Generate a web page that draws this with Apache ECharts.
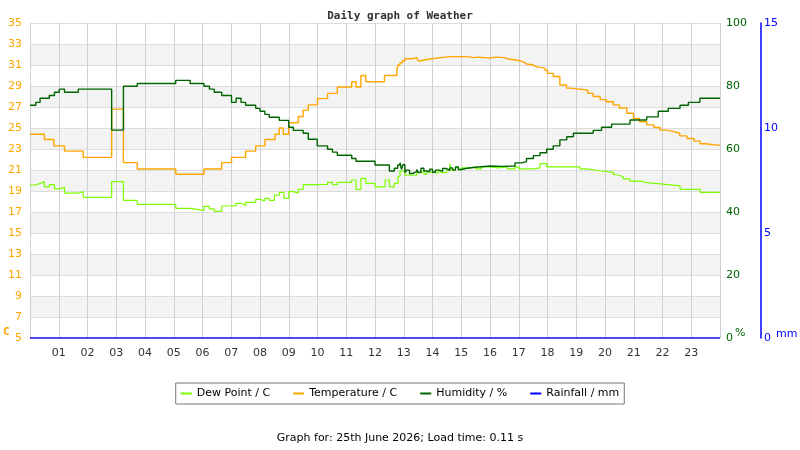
<!DOCTYPE html>
<html>
<head>
<meta charset="utf-8">
<script src="https://cdn.jsdelivr.net/npm/echarts@6/dist/echarts.min.js"></script>
<style>
  html, body { margin: 0; padding: 0; background: #fff; }
  #main { width: 800px; height: 450px; }
</style>
</head>
<body>
<div id="main"></div>
<script>
// hour ticks along the bottom
const hourLabels = ['', '01', '02', '03', '04', '05', '06', '07', '08', '09', '10', '11', '12',
  '13', '14', '15', '16', '17', '18', '19', '20', '21', '22', '23', ''];

// temperature, C (hour the value starts, value)
const tempHours = [0, 0.5, 0.83, 1.2, 1.85, 2.84, 3.25, 3.73, 5.07, 6.05, 6.67, 7.01, 7.5, 7.85, 8.17,
  8.52, 8.67, 8.81, 9.0, 9.33, 9.5, 9.68, 10.0, 10.35, 10.69, 11.19, 11.34, 11.51, 11.68, 12.33,
  12.76, 12.8, 12.87, 12.95, 13.04, 13.3, 13.45, 13.5, 13.6, 13.75, 14.0, 14.3, 14.6, 14.9, 14.96,
  15.2, 15.4, 15.6, 15.8, 16.0, 16.2, 16.5, 16.6, 16.82, 17.04, 17.2, 17.27, 17.51, 17.6, 17.8,
  17.91, 18.0, 18.2, 18.43, 18.66, 18.8, 19.13, 19.4, 19.59, 19.83, 20.05, 20.29, 20.5, 20.76,
  20.99, 21.2, 21.45, 21.7, 21.92, 22.15, 22.38, 22.6, 22.85, 23.1, 23.31, 23.48, 24];
const tempValues = [24.4, 23.9, 23.3, 22.8, 22.2, 26.8, 21.7, 21.1, 20.6, 21.1, 21.7, 22.2, 22.8, 23.3, 23.9,
  24.4, 25.0, 24.4, 25.5, 26.1, 26.7, 27.2, 27.8, 28.3, 28.9, 29.4, 28.9, 30.0, 29.4, 30.0,
  30.5, 31.0, 31.2, 31.4, 31.6, 31.7, 31.6, 31.4, 31.5, 31.6, 31.7, 31.8, 31.8, 31.9, 31.8,
  31.7, 31.75, 31.7, 31.65, 31.75, 31.7, 31.6, 31.5, 31.4, 31.25, 31.1, 31.0, 30.85, 30.75, 30.7,
  30.5, 30.2, 29.9, 29.1, 28.8, 28.7, 28.6, 28.3, 28.0, 27.7, 27.5, 27.2, 26.9, 26.4,
  25.9, 25.6, 25.3, 25.05, 24.8, 24.65, 24.5, 24.25, 24.0, 23.75, 23.5, 23.35, 23.35];

// humidity, %
const humHours = [0, 0.2, 0.35, 0.67, 0.85, 1.02, 1.2, 1.68, 2.84, 3.25, 3.73, 5.07, 5.57, 6.05, 6.24,
  6.41, 6.67, 7.01, 7.17, 7.34, 7.5, 7.85, 8.0, 8.17, 8.32, 8.67, 9.0, 9.16, 9.5, 9.68, 9.99,
  10.35, 10.52, 10.69, 11.19, 11.34, 12.0, 12.5, 12.67, 12.79, 12.87, 12.92, 12.97, 13.04, 13.1,
  13.2, 13.3, 13.45, 13.5, 13.6, 13.7, 13.8, 13.9, 14.0, 14.1, 14.2, 14.35, 14.49, 14.6, 14.7,
  14.8, 14.9, 15.0, 15.2, 15.5, 16.0, 16.4, 16.87, 17.1, 17.27, 17.51, 17.74, 17.97, 18.2, 18.43,
  18.67, 18.9, 19.59, 19.88, 20.23, 20.87, 21.45, 21.85, 22.2, 22.61, 22.9, 23.3, 24];
const humValues = [73.9, 74.8, 76.1, 77.0, 78.0, 79.0, 78.0, 79.0, 66.0, 79.9, 80.8, 81.8, 80.8, 79.9, 79.0,
  78.0, 77.0, 74.8, 76.1, 74.8, 73.9, 72.9, 72.0, 71.0, 70.1, 69.1, 66.9, 65.9, 65.0, 63.1, 61.0,
  59.9, 59.0, 58.0, 57.0, 56.1, 54.9, 53.0, 53.9, 54.9, 55.7, 53.5, 55.0, 52.5, 53.3,
  52.2, 52.8, 53.5, 52.6, 53.9, 53.0, 52.8, 53.6, 52.6, 53.3, 52.9, 53.8, 53.2, 54.0, 53.3,
  54.3, 53.5, 53.9, 54.2, 54.6, 54.5, 54.6, 55.6, 56.0, 57.0, 57.9, 58.8, 59.9, 61.0, 62.9,
  63.9, 65.0, 65.9, 66.9, 67.9, 69.2, 70.2, 72.0, 72.9, 73.9, 74.8, 76.1, 76.1];

// dew point, C
const dewHours = [0, 0.2, 0.35, 0.5, 0.67, 0.85, 1.02, 1.2, 1.68, 1.85, 2.84, 3.25, 3.73, 5.07, 5.57,
  6.05, 6.24, 6.41, 6.67, 7.01, 7.17, 7.34, 7.5, 7.85, 8.0, 8.17, 8.32, 8.5, 8.67, 8.83, 9.0,
  9.16, 9.33, 9.5, 10.0, 10.35, 10.52, 10.69, 11.19, 11.34, 11.51, 11.68, 12.0, 12.35, 12.5,
  12.67, 12.8, 12.87, 13.04, 13.45, 13.6, 13.7, 13.8, 14.0, 14.2, 14.3, 14.49, 14.6, 14.65,
  14.8, 14.9, 15.0, 15.3, 15.5, 15.7, 16.0, 16.3, 16.6, 16.87, 17.0, 17.5, 17.74, 17.97, 19.13,
  19.36, 19.83, 20.3, 20.41, 20.64, 20.87, 21.22, 21.45, 21.92, 22.61, 23.31, 24];
const dewValues = [19.57, 19.73, 19.9, 19.4, 19.6, 19.2, 19.35, 18.8, 18.95, 18.4, 19.9, 18.1, 17.73, 17.35, 17.16,
  17.54, 17.29, 17.06, 17.57, 17.6, 17.83, 17.65, 17.92, 18.2, 18.05, 18.3, 18.1, 18.6, 18.87, 18.3, 18.94,
  18.8, 19.16, 19.6, 19.63, 19.83, 19.6, 19.83, 20.05, 19.16, 20.2, 19.73, 19.4, 20.05, 19.4,
  19.73, 20.4, 20.9, 20.5, 20.74, 20.9, 20.6, 20.8, 20.7, 21.0, 20.75, 21.0, 21.6, 21.0,
  21.3, 21.0, 21.2, 21.3, 21.1, 21.3, 21.2, 21.3, 21.1, 21.3, 21.1, 21.2, 21.6, 21.3, 21.1,
  20.93, 20.78, 20.55, 20.36, 20.15, 19.95, 19.8, 19.67, 19.48, 19.16, 18.87, 18.87];

// rainfall, mm
const rainHours = [0, 24];
const rainValues = [0, 0];

function pairs(xs, ys) {
  return xs.map((x, i) => [x, ys[i]]);
}

const chart = echarts.init(document.getElementById('main'));

const option = {
  animation: false,
  title: {
    text: 'Daily graph of Weather',
    left: 'center',
    top: 6,
    textStyle: { fontFamily: 'DejaVu Sans Mono', fontSize: 11, fontWeight: 'bold', color: '#333' }
  },
  grid: { left: 30, right: 80, top: 23, bottom: 112, containLabel: false },
  legend: {
    top: 383,
    left: 'center',
    orient: 'horizontal',
    borderColor: '#777',
    borderWidth: 1,
    padding: [5, 5, 5, 5],
    itemGap: 23,
    itemWidth: 11,
    itemHeight: 2,
    icon: 'rect',
    textStyle: { fontFamily: 'DejaVu Sans', fontSize: 11, color: '#000' },
    data: ['Dew Point / C', 'Temperature / C', 'Humidity / %', 'Rainfall / mm']
  },
  xAxis: {
    type: 'value',
    min: 0,
    max: 24,
    interval: 1,
    axisLine: { show: true, lineStyle: { color: '#ccc' } },
    axisTick: { show: false },
    axisLabel: {
      color: '#333',
      fontFamily: 'DejaVu Sans',
      fontSize: 11,
      margin: 10,
      formatter: v => hourLabels[v]
    },
    splitLine: { show: true, lineStyle: { color: '#d0d0d0', width: 1 } }
  },
  yAxis: [
    {
      type: 'value',
      position: 'left',
      min: 5,
      max: 35,
      interval: 2,
      axisLine: { show: false },
      axisTick: { show: false },
      axisLabel: { color: '#ffa500', fontFamily: 'DejaVu Sans', fontSize: 11, margin: 8 },
      splitLine: { show: true, lineStyle: { color: '#ddd' } },
      splitArea: { show: true, areaStyle: { color: ['#ffffff', '#f3f3f3'] } }
    },
    {
      type: 'value',
      position: 'right',
      min: 0,
      max: 100,
      interval: 20,
      axisLine: { show: false },
      axisTick: { show: false },
      axisLabel: { color: '#006400', fontFamily: 'DejaVu Sans', fontSize: 11, margin: 6 },
      splitLine: { show: false }
    },
    {
      type: 'value',
      position: 'right',
      offset: 41,
      min: 0,
      max: 15,
      interval: 5,
      axisLine: { show: true, lineStyle: { color: '#0000ff', width: 1.5 } },
      axisTick: { show: false },
      axisLabel: { color: '#0000ff', fontFamily: 'DejaVu Sans', fontSize: 11, margin: 3 },
      splitLine: { show: false }
    }
  ],
  graphic: [
    { type: 'text', left: 3, top: 327, style: { text: 'C', fill: '#ffa500', font: 'bold 11px DejaVu Sans Mono' } },
    { type: 'text', left: 735, top: 328, style: { text: '%', fill: '#006400', font: '11px DejaVu Sans' } },
    { type: 'text', left: 776, top: 329, style: { text: 'mm', fill: '#0000ff', font: '11px DejaVu Sans' } },
    {
      type: 'text', left: 'center', top: 433,
      style: { text: 'Graph for: 25th June 2026; Load time: 0.11 s', fill: '#000', font: '11px DejaVu Sans' }
    }
  ],
  series: [
    {
      name: 'Dew Point / C',
      type: 'line',
      step: 'end',
      yAxisIndex: 0,
      showSymbol: false,
      color: '#7cfc00',
      lineStyle: { width: 1.2 },
      data: pairs(dewHours, dewValues)
    },
    {
      name: 'Temperature / C',
      type: 'line',
      step: 'end',
      yAxisIndex: 0,
      showSymbol: false,
      color: '#ffa500',
      lineStyle: { width: 1.4 },
      data: pairs(tempHours, tempValues)
    },
    {
      name: 'Humidity / %',
      type: 'line',
      step: 'end',
      yAxisIndex: 1,
      showSymbol: false,
      color: '#006400',
      lineStyle: { width: 1.4 },
      data: pairs(humHours, humValues)
    },
    {
      name: 'Rainfall / mm',
      type: 'line',
      step: 'end',
      yAxisIndex: 2,
      showSymbol: false,
      color: '#0000ff',
      lineStyle: { width: 1.5 },
      data: pairs(rainHours, rainValues)
    }
  ]
};

chart.setOption(option);
</script>
</body>
</html>
